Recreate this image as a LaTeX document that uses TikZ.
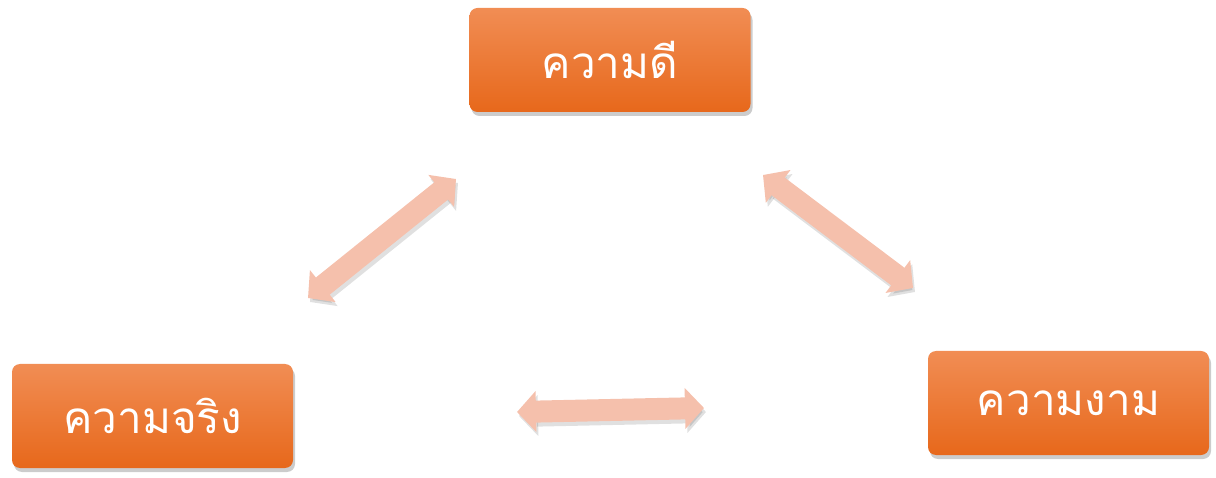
\documentclass[tikz,border=0pt]{standalone}
\usepackage{fontspec}
\usetikzlibrary{positioning,shadows,arrows.meta}
\newfontfamily\thaifont[Script=Thai]{Loma}
\definecolor{boxTop}{RGB}{241,141,84}
\definecolor{boxBottom}{RGB}{231,104,27}
\definecolor{arrowColor}{RGB}{245,192,172}
\tikzstyle{boxStyle} = [rounded corners=8pt, top color=boxTop, bottom color=boxBottom, draw=none, minimum width=281pt, minimum height=104pt, text=white, font=\thaifont\fontsize{44}{52}\selectfont, drop shadow={shadow xshift=2pt, shadow yshift=-4pt, opacity=0.4}]
\tikzstyle{arrowStyle} = [color=arrowColor, line width=22pt, arrows={Triangle[length=19pt,width=40pt]-Triangle[length=19pt,width=40pt]}]
\tikzstyle{arrowShadow} = [color=black, opacity=0.12, line width=22pt, arrows={Triangle[length=19pt,width=40pt]-Triangle[length=19pt,width=40pt]}]
\newcommand{\doubleArrow}[2]{
  \draw [arrowShadow] ([shift={(2,-4)}]#1) -- ([shift={(2,-4)}]#2);
  \draw [arrowStyle] (#1) -- (#2);
}

\begin{document}
\begin{tikzpicture}[x=1pt, y=1pt]
  \useasboundingbox (0,0) rectangle (1216,477);
  % the three boxes
  \node [boxStyle] (goodBox) at (610,417) {ความดี};
  \node [boxStyle] (trueBox) at (152.5,61) {ความจริง};
  \node [boxStyle] (beautyBox) at (1068.5,74) {ความงาม};

  % arrow ends
  \coordinate (leftLow) at (308,179);
  \coordinate (leftHigh) at (456,298);
  \coordinate (rightHigh) at (763,302);
  \coordinate (rightLow) at (913,189);
  \coordinate (bottomLeft) at (517,65);
  \coordinate (bottomRight) at (704,69);

  \doubleArrow{leftLow}{leftHigh}
  \doubleArrow{rightHigh}{rightLow}
  \doubleArrow{bottomLeft}{bottomRight}
\end{tikzpicture}
\end{document}
